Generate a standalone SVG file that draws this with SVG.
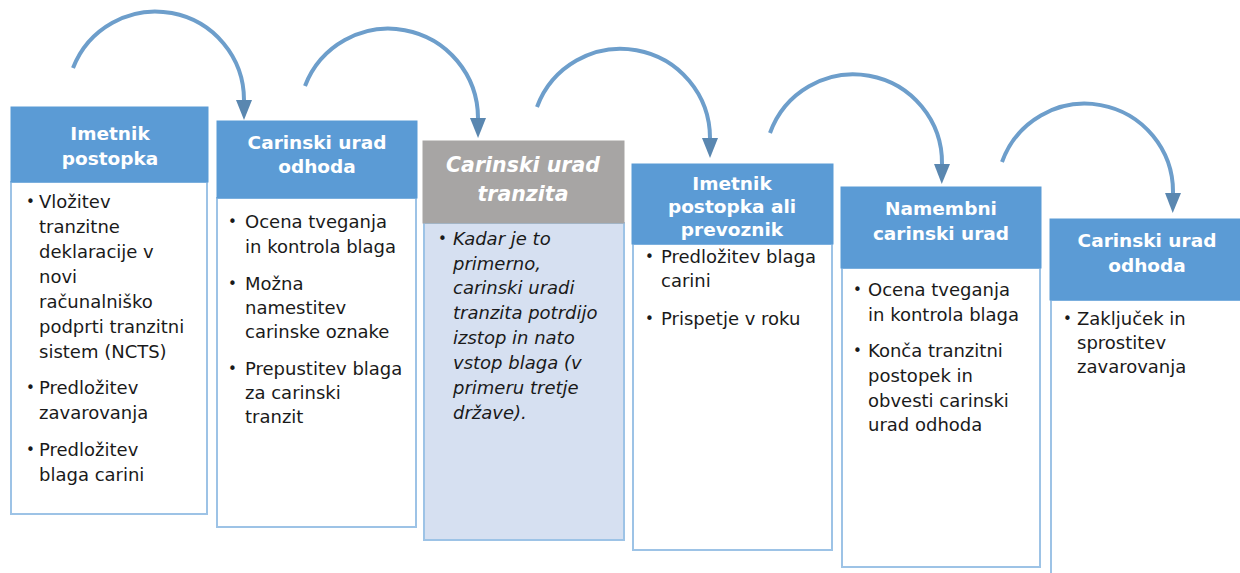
<svg xmlns="http://www.w3.org/2000/svg" width="1240" height="573" viewBox="0 0 1240 573">
<defs>
<marker id="ah" markerUnits="userSpaceOnUse" viewBox="0 0 20 16" refX="0" refY="8" markerWidth="20" markerHeight="16" orient="auto">
<path d="M0,0 L20,8 L0,16 Z" fill="#5a87b0"/>
</marker>
<style>
.hdr{fill:#5b9bd5;stroke:#5b9bd5;stroke-width:1}
.hdrg{fill:#a7a5a4;stroke:#a7a5a4;stroke-width:1}
.body{fill:#ffffff;stroke:#9dc3e6;stroke-width:2}
.bodyb{fill:#d6e0f1;stroke:#9dc3e6;stroke-width:2}
.ht{font-family:"DejaVu Sans",Verdana,sans-serif;font-weight:bold;font-size:18.5px;fill:#ffffff;text-anchor:middle}
.hti{font-family:"DejaVu Sans",Verdana,sans-serif;font-weight:bold;font-style:italic;font-size:20.5px;fill:#ffffff;text-anchor:middle}
.bt{font-family:"DejaVu Sans",Verdana,sans-serif;font-size:18px;fill:#1a1a1a}
.bti{font-family:"DejaVu Sans",Verdana,sans-serif;font-style:italic;font-size:18px;fill:#1a1a1a}
.bu{font-family:"DejaVu Sans",Verdana,sans-serif;font-size:15px;fill:#1a1a1a}
.arc{fill:none;stroke:#6d9ecb;stroke-width:4;stroke-linecap:butt}
</style>
</defs>

<g id="connectors">
<path class="arc" d="M73,68 A88.5,88.5 0 0 1 244,100" marker-end="url(#ah)"/>
<path class="arc" d="M305,86 A89.5,89.5 0 0 1 478,118" marker-end="url(#ah)"/>
<path class="arc" d="M537,107 A89.3,89.3 0 0 1 710,138" marker-end="url(#ah)"/>
<path class="arc" d="M770,133 A88.6,88.6 0 0 1 942,164" marker-end="url(#ah)"/>
<path class="arc" d="M1002,162 A88.1,88.1 0 0 1 1173,193" marker-end="url(#ah)"/>
</g>

<g id="node1">
<rect class="body" x="11" y="182" width="196" height="332"/>
<rect class="hdr" x="11" y="107" width="197" height="75"/>
<text class="ht" x="110" y="140">Imetnik</text>
<text class="ht" x="110" y="165">postopka</text>
<text class="bu" x="26" y="207">•</text>
<text class="bt" x="39" y="208">Vložitev</text>
<text class="bt" x="39" y="233">tranzitne</text>
<text class="bt" x="39" y="258">deklaracije v</text>
<text class="bt" x="39" y="283">novi</text>
<text class="bt" x="39" y="308">računalniško</text>
<text class="bt" x="39" y="333">podprti tranzitni</text>
<text class="bt" x="39" y="358">sistem (NCTS)</text>
<text class="bu" x="26" y="393">•</text>
<text class="bt" x="39" y="394">Predložitev</text>
<text class="bt" x="39" y="419">zavarovanja</text>
<text class="bu" x="26" y="455">•</text>
<text class="bt" x="39" y="456">Predložitev</text>
<text class="bt" x="39" y="481">blaga carini</text>
</g>

<g id="node2">
<rect class="body" x="217" y="198" width="199" height="329"/>
<rect class="hdr" x="217" y="121" width="200" height="77"/>
<text class="ht" x="317" y="149">Carinski urad</text>
<text class="ht" x="317" y="173">odhoda</text>
<text class="bu" x="228" y="227">•</text>
<text class="bt" x="245" y="228">Ocena tveganja</text>
<text class="bt" x="245" y="253">in kontrola blaga</text>
<text class="bu" x="228" y="289">•</text>
<text class="bt" x="245" y="290">Možna</text>
<text class="bt" x="245" y="314">namestitev</text>
<text class="bt" x="245" y="338">carinske oznake</text>
<text class="bu" x="228" y="374">•</text>
<text class="bt" x="245" y="375">Prepustitev blaga</text>
<text class="bt" x="245" y="399">za carinski</text>
<text class="bt" x="245" y="423">tranzit</text>
</g>

<g id="node3">
<rect class="bodyb" x="424" y="223" width="200" height="317"/>
<rect class="hdrg" x="423" y="141" width="201" height="82"/>
<text class="hti" x="523" y="172">Carinski urad</text>
<text class="hti" x="523" y="201">tranzita</text>
<text class="bu" x="438" y="244">•</text>
<text class="bti" x="453" y="245">Kadar je to</text>
<text class="bti" x="453" y="270">primerno,</text>
<text class="bti" x="453" y="294">carinski uradi</text>
<text class="bti" x="453" y="319">tranzita potrdijo</text>
<text class="bti" x="453" y="344">izstop in nato</text>
<text class="bti" x="453" y="369">vstop blaga (v</text>
<text class="bti" x="453" y="394">primeru tretje</text>
<text class="bti" x="453" y="419">države).</text>
</g>

<g id="node4">
<rect class="body" x="633" y="244" width="199" height="306"/>
<rect class="hdr" x="632" y="164" width="201" height="80"/>
<text class="ht" x="732" y="190">Imetnik</text>
<text class="ht" x="732" y="213">postopka ali</text>
<text class="ht" x="732" y="236">prevoznik</text>
<text class="bu" x="645" y="262">•</text>
<text class="bt" x="661" y="263">Predložitev blaga</text>
<text class="bt" x="661" y="287">carini</text>
<text class="bu" x="645" y="324">•</text>
<text class="bt" x="661" y="325">Prispetje v roku</text>
</g>

<g id="node5">
<rect class="body" x="842" y="268" width="198" height="299"/>
<rect class="hdr" x="841" y="187" width="200" height="81"/>
<text class="ht" x="941" y="215">Namembni</text>
<text class="ht" x="941" y="240">carinski urad</text>
<text class="bu" x="853" y="295">•</text>
<text class="bt" x="868" y="296">Ocena tveganja</text>
<text class="bt" x="868" y="321">in kontrola blaga</text>
<text class="bu" x="853" y="356">•</text>
<text class="bt" x="868" y="357">Konča tranzitni</text>
<text class="bt" x="868" y="382">postopek in</text>
<text class="bt" x="868" y="407">obvesti carinski</text>
<text class="bt" x="868" y="431">urad odhoda</text>
</g>

<g id="node6">
<rect class="body" x="1051" y="300" width="200" height="290"/>
<rect class="hdr" x="1050" y="219" width="200" height="81"/>
<text class="ht" x="1147" y="247">Carinski urad</text>
<text class="ht" x="1147" y="272">odhoda</text>
<text class="bu" x="1063" y="324">•</text>
<text class="bt" x="1077" y="325">Zaključek in</text>
<text class="bt" x="1077" y="349">sprostitev</text>
<text class="bt" x="1077" y="373">zavarovanja</text>
</g>
</svg>
